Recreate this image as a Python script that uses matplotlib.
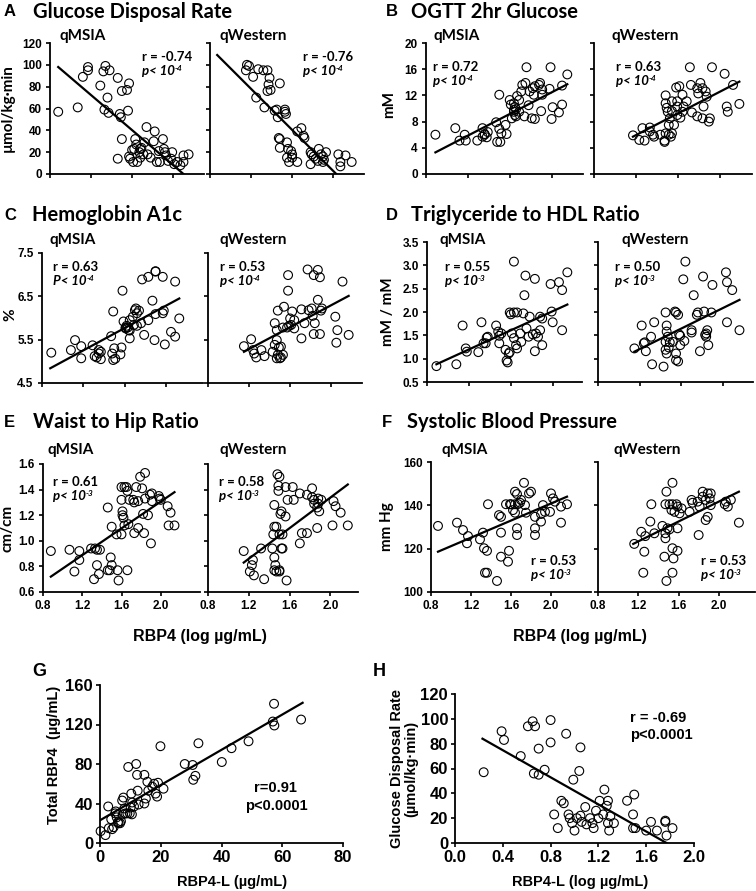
import numpy as np
import matplotlib
matplotlib.use('Agg')
from matplotlib import pyplot as plt
from matplotlib.ticker import FormatStrFormatter

W, H = 756, 891
TICK_FONT = ['Liberation Sans', 'DejaVu Sans']
HEAD_FONT = ['Lato', 'DejaVu Sans']

# A  Glucose disposal rate (umol/kg.min) vs RBP4 (log ug/mL)
a_ms_x = [0.88, 1.07, 1.12, 1.17, 1.17, 1.29, 1.32, 1.34, 1.38, 1.33, 1.37, 1.36, 1.46, 1.50, 1.55, 1.57,
          1.56, 1.48, 1.49, 1.50, 1.46, 1.58, 1.60, 1.62, 1.63, 1.65, 1.67, 1.68, 1.69, 1.72, 1.74, 1.75,
          1.78, 1.81, 1.82, 1.84, 1.86, 1.87, 1.90, 1.91, 1.92, 1.93, 1.95, 1.98, 1.99, 2.01, 2.04, 2.07,
          2.10, 2.10, 2.15, 1.64, 1.68, 1.71, 1.61, 1.57]
a_ms_y = [57, 61, 89, 95, 98, 81, 94, 99, 95, 59, 56, 70, 88, 76, 77, 83, 58, 55, 52, 32, 14, 14, 22, 23,
          32, 11, 20, 23, 24, 29, 43, 18, 15, 30, 39, 11, 21, 11, 32, 23, 20, 17, 12, 14, 20, 9, 11, 8,
          11, 17, 18, 27, 15, 18, 11, 16]
a_ms_fit = ([0.88, 2.10], [98, 0])
a_we_x = [1.16, 1.18, 1.27, 1.32, 1.36, 1.15, 1.22, 1.25, 1.33, 1.38, 1.37, 1.36, 1.39, 1.48, 1.43, 1.53,
          1.53, 1.54, 1.45, 1.46, 1.65, 1.69, 1.71, 1.72, 1.47, 1.48, 1.48, 1.55, 1.56, 1.59, 1.60, 1.60,
          1.55, 1.57, 1.65, 1.78, 1.79, 1.81, 1.83, 1.85, 1.86, 1.88, 1.90, 1.90, 1.93, 1.91, 1.78, 2.05,
          2.12, 2.07, 2.07, 2.18]
a_we_y = [100, 99, 96, 95, 95, 95, 89, 70, 61, 88, 82, 76, 77, 83, 58, 59, 57, 55, 59, 52, 39, 42, 35, 33,
          33, 32, 24, 29, 23, 21, 18, 15, 15, 11, 11, 20, 18, 16, 14, 12, 23, 18, 16, 11, 20, 13, 9, 18,
          17, 11, 7, 11]
a_we_fit = ([0.87, 2.03], [109, 0])

# B  OGTT 2hr glucose (mM)
b_ms_x = [0.89, 1.08, 1.12, 1.18, 1.17, 1.29, 1.34, 1.36, 1.39, 1.34, 1.36, 1.38, 1.47, 1.50, 1.52, 1.48,
          1.51, 1.50, 1.56, 1.57, 1.60, 1.61, 1.64, 1.64, 1.64, 1.66, 1.65, 1.65, 1.66, 1.69, 1.62, 1.67,
          1.69, 1.71, 1.72, 1.75, 1.76, 1.78, 1.74, 1.79, 1.82, 1.83, 1.84, 1.88, 1.91, 1.91, 1.89, 1.81,
          1.84, 1.90, 1.99, 1.98, 2.01, 2.00, 2.07, 2.10, 2.10, 2.15]
b_ms_y = [6.0, 7.0, 5.1, 5.1, 6.0, 5.1, 5.7, 6.1, 6.4, 7.0, 6.0, 5.6, 7.9, 6.9, 6.2, 4.9, 4.9, 12.1, 7.5,
          6.1, 11.3, 10.6, 10.8, 9.5, 9.8, 9.9, 10.2, 9.0, 8.8, 9.5, 8.5, 11.9, 11.3, 12.6, 13.6, 13.9,
          16.3, 10.5, 8.8, 12.6, 13.1, 12.1, 13.4, 13.6, 12.9, 12.1, 13.9, 8.5, 8.4, 9.6, 16.3, 13.0, 10.2,
          8.4, 9.4, 10.6, 13.5, 15.2]
b_ms_fit = ([0.89, 2.15], [3.3, 13.7])
b_we_x = [1.17, 1.23, 1.28, 1.26, 1.33, 1.33, 1.37, 1.43, 1.47, 1.47, 1.48, 1.51, 1.54, 1.53, 1.48, 1.48,
          1.50, 1.49, 1.51, 1.52, 1.58, 1.61, 1.54, 1.59, 1.64, 1.65, 1.64, 1.59, 1.62, 1.71, 1.92, 1.72,
          1.78, 1.79, 1.81, 1.83, 1.86, 1.87, 1.84, 1.78, 1.83, 1.89, 1.90, 1.73, 2.04, 2.06, 2.07, 2.12,
          2.18, 1.56, 1.36, 1.59, 1.68, 1.54]
b_we_y = [5.9, 5.2, 5.1, 7.0, 7.1, 6.5, 5.7, 6.0, 4.9, 5.1, 6.2, 6.0, 6.2, 5.7, 10.8, 12.0, 9.5, 10.1,
          7.5, 8.5, 13.2, 13.4, 11.1, 11.1, 12.1, 10.3, 9.5, 9.0, 8.6, 16.3, 16.3, 13.6, 13.1, 12.3, 13.9,
          13.1, 12.6, 11.8, 10.3, 8.8, 8.5, 8.0, 8.5, 9.4, 15.3, 10.3, 9.5, 13.6, 10.7, 7.5, 6.0, 10.3,
          11.1, 9.6]
b_we_fit = ([1.17, 2.18], [5.7, 14.1])

# C  Hemoglobin A1c (%)
c_ms_x = [0.89, 1.08, 1.12, 1.18, 1.18, 1.29, 1.31, 1.33, 1.35, 1.37, 1.37, 1.35, 1.47, 1.48, 1.49, 1.50,
          1.57, 1.56, 1.51, 1.49, 1.58, 1.59, 1.61, 1.61, 1.62, 1.63, 1.64, 1.65, 1.65, 1.65, 1.68, 1.70,
          1.71, 1.72, 1.74, 1.69, 1.72, 1.76, 1.77, 1.83, 1.79, 1.89, 1.83, 1.87, 1.90, 1.97, 1.98, 1.90,
          1.90, 1.97, 1.99, 2.05, 2.09, 2.09, 2.13]
c_ms_y = [5.20, 5.26, 5.49, 5.35, 5.07, 5.37, 5.12, 5.09, 5.18, 5.22, 5.05, 5.26, 5.58, 5.18, 5.03, 5.30,
          5.32, 5.16, 5.06, 6.15, 6.63, 5.92, 5.78, 5.76, 5.82, 5.78, 5.72, 5.71, 5.53, 5.95, 6.03, 6.18,
          6.22, 6.11, 6.17, 5.84, 5.82, 5.88, 6.89, 6.95, 5.61, 5.49, 5.95, 6.40, 6.09, 6.11, 6.17, 7.08,
          7.07, 6.95, 5.39, 5.68, 5.57, 6.84, 5.99]
c_ms_fit = ([0.88, 2.13], [4.84, 6.45])
c_we_x = [1.15, 1.22, 1.24, 1.25, 1.27, 1.32, 1.35, 1.43, 1.45, 1.47, 1.48, 1.49, 1.51, 1.53, 1.50, 1.47,
          1.51, 1.45, 1.47, 1.48, 1.54, 1.58, 1.58, 1.53, 1.57, 1.59, 1.61, 1.64, 1.60, 1.62, 1.64, 1.71,
          1.71, 1.74, 1.78, 1.81, 1.84, 1.83, 1.82, 1.77, 1.87, 1.83, 1.89, 1.87, 1.90, 1.91, 1.89, 2.04,
          2.06, 2.05, 2.11, 2.17]
c_we_y = [5.35, 5.51, 5.26, 5.18, 5.09, 5.26, 5.12, 5.22, 5.38, 5.49, 5.15, 5.32, 5.09, 5.15, 5.07, 5.07,
          5.34, 5.88, 5.72, 6.17, 6.26, 6.99, 6.63, 5.78, 5.78, 5.82, 5.84, 5.76, 5.99, 6.15, 5.95, 5.53,
          6.20, 5.88, 6.18, 6.22, 5.88, 5.63, 6.05, 7.12, 7.11, 6.99, 6.94, 6.42, 6.17, 6.22, 5.63, 6.03,
          5.72, 5.43, 6.84, 5.61]
c_we_fit = ([1.15, 2.17], [5.22, 6.51])

# D  Triglyceride to HDL ratio (mM/mM)
d_ms_x = [0.89, 1.08, 1.14, 1.17, 1.18, 1.29, 1.32, 1.34, 1.36, 1.37, 1.38, 1.46, 1.48, 1.49, 1.51, 1.49,
          1.55, 1.56, 1.57, 1.58, 1.59, 1.59, 1.60, 1.63, 1.66, 1.63, 1.61, 1.63, 1.65, 1.66, 1.70, 1.69,
          1.73, 1.74, 1.72, 1.78, 1.75, 1.77, 1.81, 1.83, 1.83, 1.84, 1.86, 1.88, 1.88, 1.90, 1.90, 1.98,
          1.99, 2.00, 2.06, 2.09, 2.09, 2.14]
d_ms_y = [0.84, 0.88, 1.71, 1.22, 1.15, 1.14, 1.78, 1.33, 1.33, 1.45, 1.47, 1.71, 1.58, 1.49, 1.54, 1.33,
          1.19, 0.96, 0.92, 1.11, 1.14, 1.99, 1.95, 1.99, 1.99, 3.08, 1.54, 1.44, 1.29, 1.22, 1.36, 1.54,
          2.36, 2.78, 1.97, 1.90, 1.65, 1.47, 1.52, 2.71, 1.16, 1.54, 1.47, 1.61, 1.90, 1.86, 1.29, 2.60,
          2.01, 1.78, 2.64, 2.47, 1.61, 2.85]
d_ms_fit = ([0.89, 2.14], [0.88, 2.16])
d_we_x = [1.15, 1.22, 1.24, 1.25, 1.26, 1.32, 1.34, 1.31, 1.43, 1.45, 1.46, 1.46, 1.47, 1.45, 1.45, 1.46,
          1.48, 1.49, 1.54, 1.55, 1.57, 1.58, 1.59, 1.55, 1.57, 1.55, 1.52, 1.59, 1.63, 1.64, 1.62, 1.72,
          1.70, 1.70, 1.75, 1.76, 1.81, 1.82, 1.78, 1.83, 1.84, 1.84, 1.85, 1.86, 1.90, 1.89, 2.03, 2.04,
          2.09, 2.04, 2.16]
d_we_y = [1.22, 1.71, 1.33, 1.35, 1.16, 0.88, 1.78, 1.47, 0.83, 1.99, 1.71, 1.58, 1.47, 1.36, 1.19, 1.11,
          1.24, 1.35, 2.01, 1.99, 1.94, 1.52, 1.49, 0.97, 0.94, 1.11, 1.36, 1.29, 1.38, 3.08, 2.70, 2.36,
          1.61, 1.56, 1.94, 1.99, 2.76, 2.01, 1.16, 1.51, 1.47, 1.54, 1.61, 1.29, 2.58, 1.99, 2.85, 2.64,
          2.47, 1.78, 1.61]
d_we_fit = ([1.15, 2.16], [1.15, 2.26])

# E  Waist to hip ratio (cm/cm)
e_ms_x = [1.46, 1.60, 1.63, 1.65, 1.66, 1.60, 1.68, 1.72, 1.77, 1.73, 1.79, 1.84, 1.75, 1.81, 1.84, 1.91,
          1.89, 1.91, 1.98, 1.99, 2.00, 2.07, 2.10, 1.61, 1.61, 1.62, 1.82, 1.87,
          0.88, 1.07, 1.17, 1.17, 1.12, 1.29, 1.33, 1.35, 1.38, 1.35, 1.37, 1.32, 1.46, 1.48, 1.49, 1.50,
          1.56, 1.57, 1.66, 1.55, 1.60, 1.50, 1.63, 1.67, 1.73, 1.77, 1.83, 1.90, 2.08, 2.14]
e_ms_y = [1.26, 1.42, 1.42, 1.42, 1.39, 1.32, 1.32, 1.32, 1.31, 1.30, 1.50, 1.53, 1.42, 1.41, 1.33, 1.31,
          1.36, 1.37, 1.35, 1.33, 1.32, 1.27, 1.22, 1.23, 1.20, 1.18, 1.21, 1.20,
          0.92, 0.93, 0.92, 0.85, 0.76, 0.94, 0.94, 0.93, 0.93, 0.81, 0.74, 0.70, 0.77, 0.77, 0.87, 0.81,
          0.77, 0.69, 0.77, 1.05, 1.05, 1.11, 1.12, 1.13, 1.06, 1.10, 1.06, 0.98, 1.12, 1.12]
e_ms_fit = ([0.88, 2.14], [0.72, 1.38])
e_we_x = [1.48, 1.50, 1.49, 1.56, 1.63, 1.49, 1.58, 1.45, 1.51, 1.56, 1.52, 1.64, 1.70, 1.77, 1.82, 1.82,
          1.84, 1.88, 1.91, 1.88, 1.84, 1.87, 1.89, 2.03, 2.05, 2.10,
          1.15, 1.23, 1.24, 1.21, 1.25, 1.35, 1.32, 1.43, 1.45, 1.46, 1.45, 1.50, 1.50, 1.52, 1.53, 1.47,
          1.57, 1.45, 1.47, 1.44, 1.50, 1.53, 1.70, 1.72, 1.77, 1.87, 2.02, 2.17]
e_we_y = [1.52, 1.50, 1.43, 1.42, 1.42, 1.39, 1.32, 1.28, 1.21, 1.19, 1.23, 1.32, 1.37, 1.36, 1.41, 1.34,
          1.32, 1.33, 1.32, 1.29, 1.29, 1.26, 1.23, 1.31, 1.27, 1.22,
          0.92, 0.81, 0.85, 0.76, 0.73, 0.70, 0.94, 0.94, 0.87, 0.81, 0.77, 0.77, 0.76, 0.94, 0.94, 0.76,
          0.69, 1.11, 1.11, 1.05, 1.05, 1.05, 0.98, 1.06, 1.06, 1.10, 1.12, 1.12]
e_we_fit = ([1.15, 2.17], [0.83, 1.44])

# F  Systolic blood pressure (mm Hg)
f_ms_x = [0.87, 1.06, 1.12, 1.17, 1.16, 1.29, 1.32, 1.33, 1.36, 1.34, 1.36, 1.46, 1.50, 1.50, 1.57, 1.58,
          1.66, 1.66, 1.84, 1.84, 1.90, 2.10,
          1.37, 1.48, 1.50, 1.55, 1.59, 1.60, 1.64, 1.67, 1.69, 1.62, 1.64, 1.64, 1.66, 1.73, 1.78, 1.80,
          1.70, 1.74, 1.75, 1.84, 1.90, 1.92, 1.94, 1.99, 2.00, 2.02, 2.04, 2.10, 2.16]
f_ms_y = [130.5, 132, 128.6, 125.8, 122.5, 124.3, 127.4, 120.2, 119, 108.9, 108.9, 105.1, 116.3, 127.4,
          114, 119, 126.3, 129.4, 126.3, 129.4, 132.5, 132,
          140.5, 135.5, 134.7, 140.5, 140.5, 140.5, 140.5, 140.6, 141.2, 137.8, 136.6, 146.3, 145.2, 150.4,
          145.5, 146.3, 142.5, 140.1, 136.6, 134.7, 136, 140.1, 137, 137, 145.5, 143.2, 141.7, 139.4, 140.5]
f_ms_fit = ([0.87, 2.16], [118.6, 144])
f_we_x = [1.33, 1.48, 1.54, 1.47, 1.51, 1.54, 1.58, 1.59, 1.63, 1.61, 1.56, 1.53, 1.73, 1.74, 1.71, 1.79,
          1.84, 1.89, 1.92, 1.84, 1.87, 1.91, 1.92, 1.81, 1.89, 2.07, 2.12, 2.06, 2.09,
          1.16, 1.23, 1.26, 1.25, 1.27, 1.36, 1.32, 1.44, 1.47, 1.47, 1.49, 1.51, 1.46, 1.48, 1.54, 1.54,
          1.55, 1.59, 1.59, 1.80, 1.87, 2.20]
f_we_y = [140.5, 146.3, 150.4, 140.5, 140.5, 140.5, 140.5, 139.4, 138.6, 136.3, 137, 137.8, 142.5, 141.2,
          137, 141.7, 146.3, 145.5, 145.5, 144, 142.5, 143.2, 140.1, 139.4, 134.7, 141.7, 142.5, 140.5, 139.4,
          122.2, 127.8, 118.6, 108.9, 125.8, 127.1, 132.5, 130.5, 124.8, 127.1, 129.4, 128.9, 116.3, 105.1,
          120.2, 108.9, 115.5, 119, 129.4, 126.3, 133.2, 132]
f_we_fit = ([1.15, 2.20], [122.2, 146.3])

# G  Total RBP4 vs RBP4-L (ug/mL)
g_x = [0.2, 1.8, 2.7, 3.7, 4.5, 5.0, 5.2, 5.5, 5.9, 6.1, 6.6, 6.9, 7.3, 7.7, 8.0, 8.4, 9.0, 9.3, 9.8, 10.1,
       10.3, 10.6, 11.2, 11.9, 12.2, 12.4, 12.7, 14.6, 14.6, 15.1, 15.6, 15.9, 17.2, 17.8, 18.3, 18.8, 19.1,
       19.9, 20.9, 27.9, 30.5, 30.7, 31.4, 32.4, 40.1, 43.3, 48.9, 56.9, 57.3, 57.4, 66.2, 2.9, 4.0, 7.5, 10.5]
g_y = [12, 8, 37, 24, 16, 30, 32, 26, 21, 20, 20, 22, 43, 46, 35, 30, 30, 77, 30, 36, 50, 41, 37, 80, 69, 53,
       39, 69, 40, 45, 62, 53, 57, 60, 50, 47, 61, 98, 55, 80, 79, 64, 68, 101, 82, 96, 103, 123, 141, 119,
       125, 15, 14, 29, 29]
g_fit = ([0, 66.7], [23, 142])

# H  Glucose disposal rate vs RBP4-L (log ug/mL)
h_x = [0.24, 0.39, 0.41, 0.55, 0.61, 0.65, 0.67, 0.66, 0.70, 0.70, 0.75, 0.80, 0.80, 0.93, 0.89, 0.91,
       0.83, 0.86, 0.95, 0.96, 0.98, 0.99, 1.00, 1.02, 1.04, 1.05, 1.05, 1.06, 1.09, 1.10, 1.13, 1.15,
       1.16, 1.18, 1.20, 1.21, 1.24, 1.25, 1.27, 1.28, 1.28, 1.29, 1.30, 1.33, 1.44, 1.49, 1.50, 1.49,
       1.51, 1.60, 1.64, 1.69, 1.76, 1.77, 1.82, 1.76]
h_y = [57, 90, 83, 70, 94, 98, 94, 56, 76, 55, 59, 81, 99, 88, 34, 32, 23, 12, 23, 20, 16, 51, 10, 20, 58,
       77, 22, 17, 29, 15, 20, 16, 12, 26, 20, 34, 23, 43, 30, 16, 34, 10, 21.5, 16, 34, 23, 39, 12, 12,
       10, 17, 10, 18, 6, 12, 17]
h_fit = ([0.23, 1.77], [84, 0])

rbp_ticks = [0.8, 1.2, 1.6, 2.0]

plt.rcParams['font.family'] = TICK_FONT
plt.rcParams['font.weight'] = 'bold'


def fx(x):
    return x / W


def fy(y):
    return 1 - y / H


def box(x0, y0, x1, y1):
    return [x0 / W, 1 - y1 / H, (x1 - x0) / W, (y1 - y0) / H]


def style(ax, size=8.5, length=3, pad=3):
    for side in ['top', 'right']:
        ax.spines[side].set_visible(False)
    for side in ['left', 'bottom']:
        ax.spines[side].set_linewidth(1.3)
    ax.tick_params(direction='out', length=length, width=1.2, labelsize=size, pad=pad)


def panel(fig, rect, xs, ys, fit, xlim, ylim, yticks, yfmt, show_y, show_x, xticks=rbp_ticks):
    ax = fig.add_axes(box(*rect))
    ax.scatter(xs, ys, s=40, facecolors='none', edgecolors='black', linewidths=0.8, zorder=3, clip_on=False)
    ax.plot(fit[0], fit[1], color='black', lw=1.6, zorder=4)
    ax.set_xlim(*xlim)
    ax.set_ylim(*ylim)
    ax.set_xticks(xticks)
    ax.set_yticks(yticks)
    ax.yaxis.set_major_formatter(FormatStrFormatter(yfmt))
    ax.xaxis.set_major_formatter(FormatStrFormatter('%.1f'))
    ax.tick_params(labelleft=show_y, labelbottom=show_x)
    style(ax)
    return ax


def stats(fig, ax, x, y, r, p, exp, gap=14):
    fig.text(fx(x), fy(y), r, fontsize=9.5, family=HEAD_FONT, fontweight='bold', va='center', ha='left')
    t = fig.text(fx(x), fy(y + gap), p + '< 10', fontsize=9.5, family=HEAD_FONT, fontweight='bold',
                 style='italic', va='center', ha='left')
    ax.annotate(exp, xy=(1.0, 0.45), xycoords=t, fontsize=6, family=HEAD_FONT, fontweight='bold',
                style='italic', va='bottom', ha='left', annotation_clip=False)


def heading(fig, lx, tx, y, letter, title):
    fig.text(fx(lx), fy(y), letter, fontsize=12, fontweight='bold', va='center', ha='left')
    fig.text(fx(tx), fy(y), title, fontsize=14.5, family=HEAD_FONT, fontweight='bold', va='center', ha='left')


def sub(fig, x, y, s):
    fig.text(fx(x), fy(y), s, fontsize=11, family=HEAD_FONT, fontweight='bold', va='center', ha='left')


def ylab(fig, x, y, s, font=HEAD_FONT, size=11):
    fig.text(fx(x), fy(y), s, fontsize=size, family=font, fontweight='bold', rotation=90,
             va='center', ha='center')


fig = plt.figure(figsize=(W / 100, H / 100), dpi=100)

# A
heading(fig, 4, 33, 12, 'A', 'Glucose Disposal Rate')
ax = panel(fig, (50, 43, 204, 174), a_ms_x, a_ms_y, a_ms_fit, (0.8, 2.3), (0, 120), range(0, 121, 20), '%d', True, False)
sub(fig, 60, 36, 'qMSIA')
stats(fig, ax, 142, 57, 'r = -0.74', 'p', '-4')
ax = panel(fig, (210, 43, 364, 174), a_we_x, a_we_y, a_we_fit, (0.8, 2.3), (0, 120), range(0, 121, 20), '%d', False, False)
sub(fig, 220, 36, 'qWestern')
stats(fig, ax, 303, 57, 'r = -0.76', 'p', '-4')
ylab(fig, 8, 108, 'µmol/kg·min')

# B
heading(fig, 386, 411, 12, 'B', 'OGTT 2hr Glucose')
ax = panel(fig, (426, 43, 583, 174), b_ms_x, b_ms_y, b_ms_fit, (0.8, 2.3), (0, 20), range(0, 21, 4), '%d', True, False)
sub(fig, 433, 36, 'qMSIA')
stats(fig, ax, 433, 67, 'r = 0.72', 'p', '-4')
ax = panel(fig, (594, 43, 752, 174), b_we_x, b_we_y, b_we_fit, (0.8, 2.3), (0, 20), range(0, 21, 4), '%d', False, False)
sub(fig, 611, 36, 'qWestern')
stats(fig, ax, 616, 67, 'r = 0.63', 'p', '-4')
ylab(fig, 389, 105, 'mM')

# C
heading(fig, 4, 32, 215, 'C', 'Hemoglobin A1c')
ax = panel(fig, (42, 253, 203, 383), c_ms_x, c_ms_y, c_ms_fit, (0.8, 2.36), (4.5, 7.5), [4.5, 5.5, 6.5, 7.5], '%.1f', True, False)
sub(fig, 49, 240, 'qMSIA')
stats(fig, ax, 53, 267, 'r = 0.63', 'P', '-4')
ax = panel(fig, (208, 253, 362, 383), c_we_x, c_we_y, c_we_fit, (0.8, 2.3), (4.5, 7.5), [4.5, 5.5, 6.5, 7.5], '%.1f', False, False)
sub(fig, 220, 240, 'qWestern')
stats(fig, ax, 220, 267, 'r = 0.53', 'p', '-4')
ylab(fig, 10, 315, '%')

# D
heading(fig, 386, 411, 215, 'D', 'Triglyceride to HDL Ratio')
ax = panel(fig, (427, 242, 582, 382), d_ms_x, d_ms_y, d_ms_fit, (0.8, 2.28), (0.5, 3.5), np.arange(0.5, 3.51, 0.5), '%.1f', True, False)
sub(fig, 440, 240, 'qMSIA')
stats(fig, ax, 445, 267, 'r = 0.55', 'p', '-3')
ax = panel(fig, (598, 242, 753, 382), d_we_x, d_we_y, d_we_fit, (0.8, 2.29), (0.5, 3.5), np.arange(0.5, 3.51, 0.5), '%.1f', False, False)
sub(fig, 621, 240, 'qWestern')
stats(fig, ax, 615, 267, 'r = 0.50', 'p', '-3')
ylab(fig, 388, 312, 'mM / mM')

# E
heading(fig, 4, 33, 422, 'E', 'Waist to Hip Ratio')
ax = panel(fig, (43, 464, 200, 592), e_ms_x, e_ms_y, e_ms_fit, (0.8, 2.4), (0.6, 1.6), np.arange(0.6, 1.61, 0.2), '%.1f', True, True)
sub(fig, 47, 450, 'qMSIA')
stats(fig, ax, 53, 482, 'r = 0.61', 'p', '-3')
ax = panel(fig, (208, 464, 358, 592), e_we_x, e_we_y, e_we_fit, (0.8, 2.27), (0.6, 1.6), np.arange(0.6, 1.61, 0.2), '%.1f', False, True)
sub(fig, 220, 450, 'qWestern')
stats(fig, ax, 219, 482, 'r = 0.58', 'p', '-3')
ylab(fig, 8, 528, 'cm/cm')
fig.text(fx(200), fy(637), 'RBP4 (log µg/mL)', fontsize=11.5, fontweight='bold', ha='center', va='center')

# F
heading(fig, 382, 407, 422, 'F', 'Systolic Blood Pressure')
ax = panel(fig, (431, 462, 591, 592), f_ms_x, f_ms_y, f_ms_fit, (0.8, 2.4), (100, 160), range(100, 161, 20), '%d', True, True)
sub(fig, 441, 450, 'qMSIA')
stats(fig, ax, 531, 561, 'r = 0.53', 'p', '-3')
ax = panel(fig, (598, 462, 755, 592), f_we_x, f_we_y, f_we_fit, (0.8, 2.36), (100, 160), range(100, 161, 20), '%d', False, True)
sub(fig, 613, 450, 'qWestern')
stats(fig, ax, 701, 561, 'r = 0.53', 'p', '-3')
ylab(fig, 387, 527, 'mm Hg')
fig.text(fx(580), fy(637), 'RBP4 (log µg/mL)', fontsize=11.5, fontweight='bold', ha='center', va='center')

# G
fig.text(fx(32), fy(672), 'G', fontsize=13, fontweight='bold', ha='left', va='center')
ax = panel(fig, (100, 685, 343, 843), g_x, g_y, g_fit, (0, 80), (0, 160), range(0, 161, 40), '%d', True, True,
           xticks=range(0, 81, 20))
ax.xaxis.set_major_formatter(FormatStrFormatter('%d'))
style(ax, size=12, length=3, pad=2)
ylab(fig, 54, 755, 'Total RBP4  (µg/mL)', font=TICK_FONT, size=10.5)
fig.text(fx(232), fy(882), 'RBP4-L (µg/mL)', fontsize=10.5, fontweight='bold', ha='center', va='center')
fig.text(fx(275), fy(788), 'r=0.91', fontsize=10.5, fontweight='bold', ha='center', va='center')
fig.text(fx(276), fy(806), 'p<0.0001', fontsize=10.5, fontweight='bold', ha='center', va='center')

# H
fig.text(fx(373), fy(672), 'H', fontsize=13, fontweight='bold', ha='left', va='center')
ax = panel(fig, (455, 694, 694, 843), h_x, h_y, h_fit, (0, 2.0), (0, 120), range(0, 121, 20), '%d', True, True,
           xticks=np.arange(0, 2.01, 0.4))
style(ax, size=12, length=3, pad=2)
fig.text(fx(404), fy(769), 'Glucose Disposal Rate\n(µmol/kg·min)', fontsize=10.5, fontweight='bold',
         rotation=90, ha='center', va='center', multialignment='center', linespacing=1.0)
fig.text(fx(580), fy(882), 'RBP4-L (log µg/mL)', fontsize=10.5, fontweight='bold', ha='center', va='center')
fig.text(fx(630), fy(718), 'r = -0.69', fontsize=10.5, fontweight='bold', ha='left', va='center')
fig.text(fx(630), fy(735), 'p<0.0001', fontsize=10.5, fontweight='bold', ha='left', va='center')

fig.savefig('out.png', dpi=100)
